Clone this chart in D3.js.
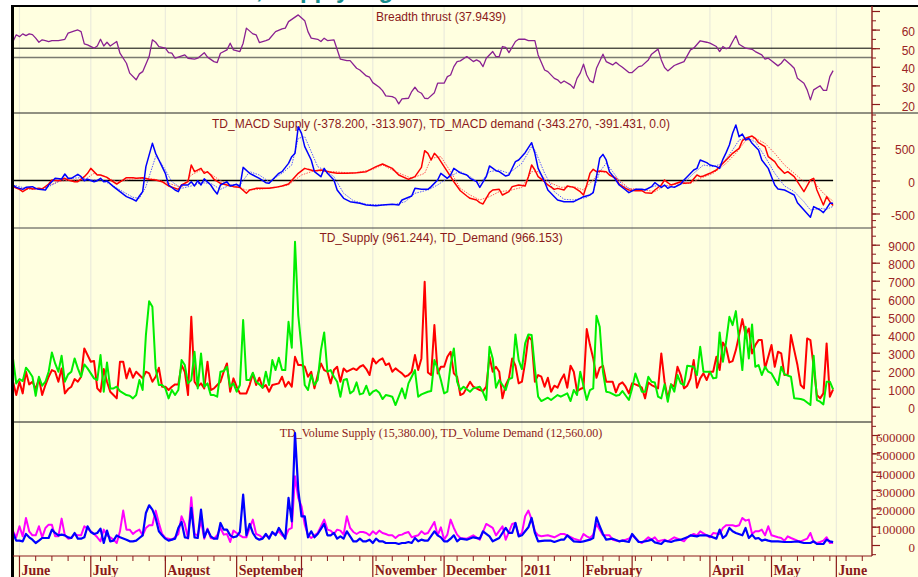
<!DOCTYPE html>
<html><head><meta charset="utf-8">
<script src="https://cdn.jsdelivr.net/npm/d3@7"></script>
<style>body{margin:0;background:#fff;}svg{display:block}</style>
</head><body>
<script>
// ---------------- DATA (day index = trading day from late May 2010) ----------------
const monthStarts = [2,24,47,69,89,111,133,157,176,191,215,234,254];
const monthLabels = ["June","July","August","September","October","November","December","2011","February","March","April","May","June"];

const breadthTicks = [20,30,40,50,60,70];
const breadthLabels = [20,30,40,50,60];
const breadthLevels = [50,45];
const macdTicks = [-500,0,500];
const supplyTicks = [0,1000,2000,3000,4000,5000,6000,7000,8000,9000];
const volumeTicks = [0,100000,200000,300000,400000,500000,600000];

const breadth = [[0,53.6],[1,57.2],[2,56.2],[3,57.7],[4,56.8],[5,57.7],[6,57.3],[7,55.4],[8,53.2],[9,54.5],[10,54.1],[11,53.6],[12,54.1],[14,54.1],[16,54.8],[17,58.1],[19,59.3],[20,59.8],[21,58.9],[22,52.3],[23,51.8],[25,50.0],[26,51.2],[27,54.8],[28,51.2],[29,53.2],[30,51.2],[32,53.6],[33,47.3],[35,41.9],[36,36.6],[38,33.0],[39,36.2],[40,37.4],[42,45.5],[43,54.5],[44,53.2],[45,50.9],[47,50.0],[48,47.6],[49,47.3],[50,44.6],[51,45.2],[53,46.4],[54,44.6],[56,44.1],[57,44.6],[59,47.6],[60,45.2],[62,42.8],[63,42.3],[64,47.3],[66,49.1],[67,52.7],[68,49.1],[70,48.2],[71,52.7],[72,60.8],[74,57.7],[75,57.2],[76,53.0],[78,54.1],[79,54.8],[81,58.9],[83,60.4],[84,60.8],[85,64.3],[88,67.9],[90,64.8],[91,58.9],[92,55.4],[94,54.8],[95,53.6],[96,55.4],[97,54.1],[99,54.5],[101,44.1],[103,43.3],[104,43.3],[106,39.2],[107,38.3],[109,35.1],[110,34.4],[111,31.5],[113,29.0],[114,27.2],[115,24.4],[117,24.0],[118,23.1],[119,20.1],[120,22.7],[122,23.1],[123,26.7],[124,29.0],[125,26.7],[126,25.8],[127,23.1],[128,22.9],[130,26.1],[131,31.2],[133,31.2],[134,34.7],[135,35.6],[136,40.1],[137,42.8],[138,43.2],[140,45.5],[142,42.8],[143,43.7],[144,42.8],[145,40.1],[146,44.6],[148,48.2],[149,45.5],[150,45.5],[151,50.9],[152,50.5],[153,47.6],[155,53.6],[156,54.8],[158,54.8],[159,54.1],[161,54.1],[162,46.4],[164,38.3],[165,37.4],[167,33.8],[168,33.0],[169,31.2],[170,32.4],[172,30.3],[173,28.5],[174,33.8],[175,36.6],[176,41.4],[177,35.6],[178,32.4],[179,31.5],[180,39.2],[182,46.8],[183,42.8],[185,41.0],[186,42.4],[187,41.0],[188,39.8],[190,36.9],[191,36.9],[193,40.1],[194,40.5],[196,43.7],[197,46.8],[199,49.5],[200,43.7],[201,39.6],[202,37.8],[204,40.7],[205,41.4],[207,42.8],[209,49.1],[210,50.0],[212,54.0],[214,53.2],[215,52.7],[217,50.9],[218,48.2],[219,50.9],[220,49.7],[221,50.3],[222,53.6],[223,56.7],[224,52.1],[226,50.0],[228,49.4],[229,48.2],[231,46.4],[232,44.1],[233,44.6],[234,43.3],[236,40.5],[237,41.9],[238,44.1],[240,41.0],[241,39.2],[242,33.8],[244,31.2],[245,27.6],[246,22.2],[247,27.6],[249,29.8],[250,27.3],[251,27.3],[252,34.7],[253,37.9439]];

const macdBlue = [[0,-68],[1,-104],[3,-134],[4,-104],[6,-93],[7,-119],[8,-134],[10,-144],[11,-68],[13,33],[15,23],[16,98],[17,33],[18,33],[20,93],[21,58],[22,-3],[23,18],[25,-18],[26,-3],[27,33],[28,-18],[29,-8],[31,-93],[33,-169],[35,-245],[37,-285],[38,-311],[39,-235],[40,-169],[41,210],[43,563],[44,412],[45,311],[47,109],[48,-68],[50,-144],[51,-169],[52,-68],[54,-68],[55,-18],[56,-83],[57,-3],[58,-68],[59,25],[61,-68],[62,-144],[63,-205],[64,-68],[66,-18],[67,-83],[69,-58],[70,-93],[71,199],[73,109],[74,83],[76,33],[78,-33],[79,-43],[80,8],[82,109],[83,134],[85,260],[86,361],[87,412],[88,815],[89,715],[90,513],[92,311],[93,134],[95,58],[96,184],[97,109],[99,8],[100,-144],[102,-270],[104,-321],[107,-346],[109,-371],[112,-381],[114,-371],[117,-361],[119,-371],[120,-295],[123,-235],[124,-119],[126,-134],[128,-134],[129,-93],[131,8],[132,109],[134,33],[135,83],[136,184],[138,115],[140,83],[141,33],[143,-18],[144,-104],[146,58],[147,220],[149,149],[150,134],[152,68],[153,83],[155,285],[156,311],[158,422],[160,573],[161,412],[162,184],[164,-18],[165,-144],[167,-245],[168,-295],[170,-321],[171,-321],[173,-321],[175,-270],[176,-245],[178,-220],[179,-184],[180,58],[181,336],[182,396],[183,311],[184,134],[186,8],[187,-68],[189,-144],[190,-184],[192,-134],[194,-134],[195,-144],[197,-93],[198,-33],[199,-68],[200,-104],[201,-68],[202,-119],[203,-93],[204,-104],[206,-53],[207,8],[208,58],[210,159],[211,184],[212,311],[214,270],[215,235],[217,210],[218,184],[219,321],[220,422],[221,538],[222,715],[223,841],[224,664],[225,704],[226,614],[227,639],[228,563],[230,462],[231,311],[233,184],[234,58],[235,-68],[236,-129],[238,-144],[239,-169],[241,-220],[242,-336],[244,-447],[246,-557],[247,-396],[249,-447],[250,-487],[251,-422],[252,-346],[253,-343.27]];

const macdBlueSignal = [[0,-68],[4,-119],[8,-134],[11,-93],[15,8],[18,33],[21,43],[24,8],[27,8],[30,-53],[33,-144],[37,-255],[39,-270],[41,-93],[44,361],[45,321],[47,159],[49,-18],[52,-119],[55,-83],[58,-33],[61,-43],[64,-134],[67,-68],[70,-68],[73,134],[76,83],[79,-18],[83,109],[86,235],[88,639],[90,664],[92,437],[94,210],[96,159],[99,58],[102,-194],[105,-306],[109,-361],[114,-371],[118,-361],[121,-321],[124,-194],[128,-144],[131,-68],[134,33],[137,119],[138,134],[141,58],[144,-43],[147,134],[150,159],[153,109],[157,260],[160,513],[161,462],[164,109],[167,-169],[170,-285],[173,-295],[177,-255],[179,-169],[181,134],[183,260],[185,134],[188,-68],[191,-144],[195,-134],[198,-83],[201,-83],[204,-93],[207,-33],[210,109],[213,235],[216,210],[219,260],[222,462],[224,614],[226,639],[229,588],[232,361],[235,109],[238,-83],[241,-169],[244,-321],[246,-447],[249,-422],[251,-437],[253,-391.431]];

const macdRed = [[0,-93],[2,-134],[3,-169],[5,-109],[6,-129],[8,-119],[9,-129],[11,-53],[12,8],[14,-3],[16,33],[17,8],[19,-18],[20,-18],[22,58],[23,109],[24,184],[26,83],[27,83],[29,48],[30,8],[32,-53],[34,8],[35,43],[37,43],[38,33],[40,43],[42,18],[44,8],[46,-18],[48,-83],[51,-134],[52,-68],[54,-18],[55,235],[56,134],[58,184],[59,109],[60,134],[61,83],[62,18],[64,-43],[66,-68],[68,-93],[70,-104],[72,-194],[73,-144],[75,-119],[77,-119],[79,-119],[81,-104],[83,-83],[85,-53],[88,109],[90,184],[91,169],[93,144],[95,159],[98,124],[100,109],[103,109],[106,119],[109,134],[112,210],[114,250],[117,184],[119,83],[122,18],[124,58],[126,199],[127,452],[128,412],[129,311],[130,412],[131,361],[133,210],[135,58],[136,-18],[138,-155],[140,-235],[141,-270],[143,-295],[144,-336],[145,-356],[147,-184],[148,-144],[150,-134],[151,-220],[153,-169],[154,-93],[156,-68],[158,-83],[159,58],[160,235],[161,159],[162,58],[164,-18],[165,-68],[167,-134],[168,-119],[170,-144],[171,-83],[173,-104],[175,-169],[176,-220],[177,-68],[178,109],[179,169],[180,134],[181,144],[183,134],[184,83],[186,33],[187,-53],[189,-119],[190,-144],[192,-154],[194,-154],[195,-184],[197,-194],[198,-144],[200,-68],[201,8],[202,-33],[203,-68],[204,-53],[206,-18],[207,-43],[209,-33],[211,83],[212,58],[213,68],[215,109],[217,159],[219,260],[221,361],[222,412],[224,487],[225,603],[226,639],[228,674],[229,639],[230,573],[232,513],[233,361],[235,285],[236,210],[238,109],[239,134],[241,58],[242,-18],[244,-169],[246,8],[247,33],[248,-144],[250,-371],[251,-245],[252,-321],[253,-378.2]];

const macdRedSignal = [[0,-104],[4,-134],[9,-119],[14,-18],[18,8],[22,8],[25,109],[28,68],[32,-18],[36,18],[40,33],[44,18],[48,-43],[52,-104],[55,83],[58,159],[61,98],[64,-3],[68,-83],[72,-144],[76,-134],[81,-104],[85,-68],[89,83],[93,149],[99,134],[105,109],[111,169],[114,235],[118,134],[123,33],[127,109],[129,336],[132,361],[135,134],[138,-119],[141,-220],[144,-295],[147,-245],[150,-169],[153,-154],[157,-104],[160,134],[162,134],[165,-18],[169,-104],[173,-93],[176,-144],[179,8],[181,134],[184,119],[187,8],[190,-119],[195,-144],[198,-169],[201,-83],[205,-53],[209,-43],[212,33],[216,109],[220,260],[223,412],[226,603],[229,639],[232,563],[235,412],[238,235],[241,109],[244,-18],[247,-18],[250,-194],[253,-313.907]];

const macdZero = [[0,0],[253,0]];

const supplyGreen = [[0,2683],[1,1295],[2,1540],[3,1425],[4,2165],[5,1943],[6,1665],[7,610],[8,1665],[9,1165],[10,1388],[11,1943],[12,3016],[13,2405],[14,1943],[15,2830],[16,1388],[17,1795],[18,1943],[19,2683],[20,2128],[21,1665],[22,2350],[23,2128],[25,1573],[26,1480],[27,2868],[28,833],[29,2460],[30,1018],[31,1018],[32,1110],[33,870],[35,648],[36,610],[37,463],[38,648],[39,1480],[40,925],[41,3978],[42,5865],[43,5550],[44,2128],[45,1203],[46,1203],[47,1018],[48,463],[49,925],[50,648],[51,925],[52,2590],[53,2313],[54,1295],[55,1480],[56,3053],[57,1018],[58,2960],[59,1110],[60,1295],[61,648],[62,648],[63,555],[64,1943],[65,1980],[66,2220],[67,1110],[68,1295],[69,833],[70,1203],[71,4810],[72,1480],[73,1480],[74,1887],[75,1388],[76,1240],[77,1055],[78,1943],[79,1203],[80,2590],[81,2035],[82,2720],[83,2035],[84,2035],[85,4718],[86,3275],[87,9158],[88,5088],[89,3275],[90,1203],[91,925],[92,1758],[93,1203],[94,1480],[95,3145],[96,4126],[97,1943],[98,2035],[99,1665],[100,1388],[101,555],[102,1480],[103,1536],[104,740],[105,870],[106,1350],[107,685],[108,740],[109,1166],[110,648],[111,833],[112,925],[113,777],[114,426],[115,648],[116,610],[117,555],[118,93],[120,1018],[121,463],[122,1295],[123,1665],[124,2035],[125,555],[126,685],[128,833],[129,870],[130,2590],[131,2128],[132,1480],[133,740],[134,833],[135,2313],[136,3238],[137,1388],[138,925],[139,1110],[141,833],[142,1018],[144,1110],[145,796],[146,370],[147,3330],[148,2683],[149,1055],[150,1480],[151,1203],[152,925],[153,1536],[154,1610],[155,4015],[156,2590],[157,2091],[158,3515],[159,4015],[160,3978],[161,2128],[162,555],[163,315],[165,500],[166,370],[168,648],[169,555],[171,740],[172,315],[173,925],[174,648],[175,1943],[177,370],[178,925],[179,1018],[180,5050],[181,4440],[182,1943],[183,833],[184,796],[186,610],[187,648],[188,870],[190,370],[191,1018],[192,1850],[194,833],[195,833],[196,1665],[197,1388],[198,1350],[199,555],[200,463],[201,1240],[202,278],[203,1240],[204,833],[205,1758],[206,1295],[207,1203],[208,2276],[210,2220],[211,1758],[212,3330],[213,1943],[215,1943],[216,1573],[217,1610],[218,4126],[219,2498],[220,3608],[221,4995],[222,4533],[223,5310],[225,2035],[226,4440],[227,2683],[228,4570],[229,2220],[230,2313],[231,1758],[232,2220],[233,1943],[234,1850],[236,1203],[237,2220],[238,1795],[240,1665],[241,463],[243,426],[244,370],[246,93],[247,2830],[248,370],[249,278],[250,130],[251,1388],[252,1388],[253,961.244]];

const supplyRed = [[0,1388],[1,648],[2,1388],[3,740],[4,1943],[5,1240],[6,1388],[7,981],[8,1573],[9,648],[10,1203],[11,1665],[12,2035],[13,1943],[14,1388],[15,2128],[16,740],[17,981],[18,1110],[19,1536],[20,1388],[21,1665],[22,3238],[24,2498],[25,2535],[26,1018],[27,833],[28,2091],[29,1388],[30,833],[31,648],[32,463],[33,2498],[34,2498],[35,1573],[36,2128],[37,1610],[38,1943],[39,1758],[40,1573],[41,1943],[42,1850],[43,1388],[44,1665],[45,2165],[46,1110],[47,1110],[48,925],[49,1110],[50,1240],[51,1240],[52,2313],[53,1943],[54,648],[55,4995],[56,1388],[57,1110],[58,1295],[59,1018],[60,2498],[61,925],[62,1018],[63,1203],[64,1388],[65,1943],[66,2405],[67,833],[68,1573],[69,1110],[70,740],[71,740],[72,740],[73,1203],[74,1850],[75,1203],[76,1610],[77,1055],[78,1203],[79,833],[80,1203],[82,1295],[83,1665],[84,1110],[85,1388],[86,1110],[87,2775],[88,2313],[89,2313],[90,2220],[91,1665],[92,1943],[93,1018],[94,1758],[95,2405],[96,2035],[97,1943],[98,1295],[99,2035],[100,2220],[101,1388],[102,2128],[103,1943],[105,2128],[106,2035],[107,2220],[108,2313],[109,2091],[110,1758],[111,2683],[112,2405],[113,2590],[114,2683],[115,2313],[116,2405],[117,1943],[118,2128],[119,1980],[120,1850],[121,1665],[122,1758],[123,1943],[124,2868],[125,2035],[126,2683],[127,6938],[128,1900],[129,1758],[130,4533],[131,1850],[132,2220],[133,2220],[134,2775],[135,3053],[136,1850],[137,1665],[138,648],[139,740],[141,1388],[142,1110],[144,925],[145,870],[146,1110],[147,2775],[148,1943],[149,2220],[150,1943],[151,463],[152,1203],[153,1573],[154,2683],[155,2276],[156,1295],[157,1388],[158,2460],[159,3885],[160,3700],[161,1388],[162,1758],[163,1665],[164,1110],[165,1610],[166,833],[167,1166],[168,1055],[169,1480],[170,1795],[171,1055],[172,2276],[173,1943],[174,870],[175,981],[176,1055],[177,4310],[178,3423],[179,2683],[180,1610],[181,2165],[182,2276],[183,1388],[185,1388],[186,796],[187,1240],[188,1350],[189,1110],[190,740],[191,1295],[192,1240],[193,1166],[194,1055],[195,463],[196,1350],[197,1203],[199,1018],[200,2960],[201,1388],[202,463],[203,1240],[204,1110],[205,2220],[206,1758],[207,1018],[208,1166],[209,1573],[210,2590],[211,1055],[212,1573],[213,1850],[214,1480],[215,1943],[216,1943],[217,2775],[218,2035],[219,3570],[220,3275],[221,2460],[222,2535],[223,3145],[224,3978],[225,4866],[226,3978],[227,4348],[228,2960],[229,3423],[230,3700],[231,3700],[232,2128],[234,3423],[235,2220],[236,3053],[237,2960],[238,1758],[239,1795],[240,3978],[241,3145],[242,2313],[243,1203],[244,1018],[245,3793],[246,3700],[247,2220],[248,648],[249,463],[250,740],[251,3515],[252,555],[253,966.153]];

const volMagenta = [[0,75000],[1,41900],[2,102000],[3,47300],[4,147500],[5,74700],[6,52800],[7,52800],[8,102000],[9,41900],[10,92900],[11,111000],[12,111000],[13,47300],[14,47300],[15,143900],[16,52800],[17,34600],[18,38200],[19,60100],[20,52800],[21,52800],[22,102000],[24,74700],[25,60100],[26,41900],[27,20000],[28,83800],[29,52800],[30,41900],[31,29100],[32,10900],[33,74700],[34,187600],[35,83800],[36,83800],[37,60100],[38,74700],[39,83800],[40,52800],[41,92900],[42,107400],[43,107400],[44,187600],[45,120200],[46,60100],[47,38200],[48,34600],[49,29100],[50,41900],[51,60100],[52,156600],[53,114700],[54,34600],[55,260400],[56,60100],[57,52800],[58,132900],[59,34600],[60,89200],[61,38200],[62,34600],[63,52800],[64,92900],[65,56500],[66,60100],[67,16400],[68,78300],[69,65600],[70,52800],[71,41900],[72,41900],[73,92900],[74,138400],[75,60100],[76,52800],[77,38200],[78,52800],[79,41900],[80,65600],[81,60100],[82,74700],[83,52800],[84,41900],[85,83800],[86,92900],[87,375100],[88,256800],[89,211200],[90,111000],[91,52800],[92,38200],[93,52800],[94,65600],[96,138400],[97,83800],[98,78300],[99,60100],[100,83800],[101,78300],[102,56500],[103,156600],[104,92900],[105,71000],[106,60100],[107,71000],[108,71000],[109,65600],[110,52800],[111,74700],[112,60100],[113,78300],[114,65600],[115,60100],[116,52800],[117,52800],[118,38200],[119,52800],[120,56500],[121,65600],[122,71000],[123,41900],[124,47300],[125,52800],[126,74700],[127,60100],[128,65600],[130,125700],[131,52800],[132,96500],[133,29100],[134,56500],[135,138400],[136,92900],[137,56500],[138,38200],[140,34600],[142,52800],[144,29100],[146,114700],[148,92900],[149,52800],[151,102000],[152,29100],[154,114700],[155,120200],[156,52800],[157,65600],[158,156600],[159,187600],[160,138400],[161,74700],[162,52800],[163,47300],[165,52800],[167,41900],[169,60100],[170,60100],[171,52800],[173,34600],[175,23700],[176,60100],[177,47300],[178,38200],[179,56500],[180,114700],[181,83800],[182,52800],[184,52800],[185,29100],[187,20000],[189,29100],[190,34600],[191,52800],[193,20000],[194,10900],[196,41900],[197,29100],[198,41900],[199,20000],[201,29100],[202,20000],[204,41900],[205,34600],[207,20000],[208,41900],[210,60100],[211,52800],[212,74700],[214,52800],[215,41900],[216,65600],[218,60100],[219,92900],[220,107400],[222,107400],[223,102000],[224,107400],[225,147500],[226,132900],[227,138400],[228,60100],[229,74700],[230,74700],[231,83800],[232,52800],[233,102000],[234,52800],[236,41900],[237,38200],[238,23700],[239,47300],[240,38200],[242,23700],[243,20000],[245,34600],[246,65600],[247,16400],[248,10900],[249,16400],[250,23700],[251,41900],[252,10900],[253,12560]];

const volBlue = [[0,65600],[1,23700],[2,23700],[3,20000],[4,60100],[5,41900],[6,29100],[7,10900],[8,23700],[9,38200],[10,38200],[11,38200],[12,83800],[13,65600],[14,52800],[15,56500],[16,52800],[17,41900],[18,38200],[19,65600],[20,34600],[21,34600],[22,41900],[23,102000],[24,71000],[25,60100],[26,65600],[27,89200],[28,10900],[29,78300],[30,20000],[31,23700],[32,52800],[33,41900],[35,29100],[36,20000],[37,20000],[38,23700],[39,38200],[40,52800],[41,174800],[42,216700],[43,193000],[44,147500],[45,74700],[46,52800],[47,34600],[48,23700],[49,29100],[50,34600],[51,92900],[52,125600],[53,41900],[54,38200],[55,202100],[56,41900],[57,38200],[58,193000],[59,41900],[60,83800],[61,47300],[62,34600],[63,34600],[64,120200],[65,83800],[66,83800],[67,52800],[68,41900],[69,47300],[70,71000],[71,275000],[72,52800],[73,114700],[74,65600],[75,38200],[76,29100],[77,34600],[78,60100],[79,34600],[80,71000],[81,52800],[82,92900],[83,65600],[84,34600],[85,256800],[86,129300],[87,610000],[88,302300],[89,156600],[90,156600],[91,41900],[92,74700],[93,41900],[94,60100],[96,114700],[97,52800],[98,52800],[99,65600],[100,34600],[101,47300],[102,34600],[103,74700],[104,47300],[105,20000],[106,20000],[107,34600],[108,20000],[109,20000],[110,29100],[111,10900],[112,34600],[113,20000],[114,20000],[115,10900],[116,10900],[117,10900],[118,10900],[119,5500],[120,10900],[121,10900],[122,16400],[123,10900],[124,38200],[125,20000],[126,29100],[127,23700],[128,23700],[130,74700],[131,52800],[132,41900],[133,20000],[134,20000],[135,34600],[136,52800],[137,20000],[138,34600],[140,29100],[142,41900],[144,34600],[145,74700],[147,47300],[148,20000],[150,38200],[152,92900],[153,65600],[154,65600],[155,120200],[156,47300],[157,52800],[158,74700],[159,96500],[160,147500],[161,65600],[162,20000],[164,23700],[166,23700],[167,16400],[169,29100],[170,29100],[171,52800],[173,20000],[175,16400],[176,20000],[178,29100],[179,38200],[180,151100],[181,102000],[182,60100],[183,29100],[185,34600],[187,20000],[188,23700],[190,16400],[191,60100],[193,16400],[194,16400],[196,23700],[197,29100],[198,14600],[200,5500],[201,23700],[203,16400],[204,23700],[206,29100],[208,41900],[209,52800],[211,47300],[212,52800],[214,52800],[215,47300],[217,34600],[218,83800],[219,38200],[220,52800],[221,92900],[222,74700],[223,65600],[225,52800],[226,92900],[227,38200],[228,56500],[229,34600],[230,38200],[231,23700],[232,29100],[233,23700],[234,20000],[236,20000],[238,16400],[240,16400],[242,20000],[244,10900],[246,10900],[247,20000],[248,5500],[250,5500],[251,29100],[252,20000],[253,15380]];

const titles = {
  breadth: "Breadth thrust (37.9439)",
  macd: "TD_MACD Supply (-378.200, -313.907), TD_MACD demand (-343.270, -391.431, 0.0)",
  supply: "TD_Supply (961.244), TD_Demand (966.153)",
  volume: "TD_Volume Supply (15,380.00), TD_Volume Demand (12,560.00)"
};
const headerText = "TAIEX, Supply Signal.";

// ---------------- LAYOUT ----------------
const W = 918, H = 577;
const L = 13, R = 872;
const CREAM = "#ffffe0", AX = "#8b1a1a", LBL = "#9a2424";
const SANS = "'Liberation Sans', Arial, sans-serif";
const SERIF = "'Liberation Serif', 'Times New Roman', serif";

const P = {
  breadth: {top: 6, bottom: 113},
  macd: {top: 113, bottom: 228},
  supply: {top: 228, bottom: 422},
  volume: {top: 422, bottom: 556}
};

const x = d3.scaleLinear().domain([0, 265]).range([L, R]);
const yB = d3.scaleLinear().domain([20, 70]).range([104, 11]);
const yM = d3.scaleLinear().domain([-500, 500]).range([213.5, 147.5]);
const yS = d3.scaleLinear().domain([0, 9000]).range([406.7, 244.7]);
const yV = d3.scaleLinear().domain([0, 600000]).range([545, 435]);

const svg = d3.select("body").append("svg").attr("width", W).attr("height", H);
svg.append("rect").attr("width", W).attr("height", H).attr("fill", "#fff");

// header title, cut off by the top of the picture as in the original
svg.append("text").attr("x", 187).attr("y", -2).attr("font-family", SANS).attr("font-weight", "bold")
  .attr("font-size", 24).attr("fill", "#178c8c").text(headerText);

svg.append("rect").attr("x", 12).attr("y", 6).attr("width", W - 12).attr("height", H - 6).attr("fill", CREAM);

// clip paths
const defs = svg.append("defs");
Object.entries(P).forEach(([k, p]) => {
  defs.append("clipPath").attr("id", "clip-" + k).append("rect")
    .attr("x", L).attr("y", p.top).attr("width", R - L).attr("height", p.bottom - p.top);
});

// vertical month gridlines
svg.append("g").selectAll("line").data(monthStarts).join("line")
  .attr("x1", d => x(d)).attr("x2", d => x(d)).attr("y1", 6).attr("y2", 556)
  .attr("stroke", "#ebebdc").attr("stroke-width", 1.2);

// breadth reference levels
svg.append("g").selectAll("line").data(breadthLevels).join("line")
  .attr("x1", L).attr("x2", R).attr("y1", d => yB(d)).attr("y2", d => yB(d))
  .attr("stroke", (d, i) => i === 0 ? "#000" : "#7a7a70").attr("stroke-width", (d, i) => i === 0 ? 1 : 1.6);

// titles
function title(txt, y, fam) {
  svg.append("text").attr("x", 441).attr("y", y).attr("text-anchor", "middle")
    .attr("font-family", fam).attr("font-size", 12).attr("fill", AX).text(txt);
}
title(titles.breadth, 21, SANS);
title(titles.macd, 128, SANS);
title(titles.supply, 242, SANS);
title(titles.volume, 437, SERIF);

// series
function series(data, y, panel, color, width, dash) {
  const line = d3.line().x(d => x(d[0])).y(d => y(d[1]));
  svg.append("path").datum(data).attr("clip-path", "url(#clip-" + panel + ")")
    .attr("d", line).attr("fill", "none").attr("stroke", color).attr("stroke-width", width)
    .attr("stroke-linejoin", "round").attr("stroke-dasharray", dash || null);
}
series(breadth, yB, "breadth", "#8a2191", 1.3);

series(macdZero, yM, "macd", "#000", 1.3);
series(macdRedSignal, yM, "macd", "#ff5a5a", 1, "1.5,1.2");
series(macdBlueSignal, yM, "macd", "#5a5aff", 1, "1.5,1.2");
series(macdRed, yM, "macd", "#ff0000", 1.5);
series(macdBlue, yM, "macd", "#0000ff", 1.5);

series(supplyRed, yS, "supply", "#ff0000", 2);
series(supplyGreen, yS, "supply", "#00ee00", 2);

series(volMagenta, yV, "volume", "#ff00ff", 2);
series(volBlue, yV, "volume", "#0000ff", 2.2);

// borders and separators
svg.append("line").attr("x1", 12).attr("x2", W).attr("y1", 6).attr("y2", 6).attr("stroke", "#000").attr("stroke-width", 2);
svg.append("line").attr("x1", 12).attr("x2", W).attr("y1", 113).attr("y2", 113).attr("stroke", "#222").attr("stroke-width", 1);
svg.append("line").attr("x1", 12).attr("x2", R).attr("y1", 228).attr("y2", 228).attr("stroke", "#444").attr("stroke-width", 1);
svg.append("line").attr("x1", 12).attr("x2", R).attr("y1", 422).attr("y2", 422).attr("stroke", "#111").attr("stroke-width", 1);
svg.append("line").attr("x1", 12.5).attr("x2", 12.5).attr("y1", 5).attr("y2", H).attr("stroke", "#000").attr("stroke-width", 3);

// right axes
function rightAxis(y, panel, major, labels, minorStep, fam, fs, fmt) {
  const p = P[panel];
  const inside = v => y(v) > p.top + 1 && y(v) < p.bottom - 1;
  const lo = y.invert(p.bottom), hi = y.invert(p.top);
  const minor = d3.range(Math.ceil(lo / minorStep) * minorStep, hi, minorStep).filter(inside);
  const g = svg.append("g").attr("transform", `translate(${R},0)`);
  g.call(d3.axisRight(y).tickValues(minor).tickSize(4).tickFormat(""));
  g.select(".domain").remove();
  g.selectAll("line").attr("stroke", AX);
  const g2 = svg.append("g").attr("transform", `translate(${R},0)`);
  g2.call(d3.axisRight(y).tickValues(major.filter(inside)).tickSize(8)
    .tickFormat(d => labels.includes(d) ? fmt(d) : ""));
  g2.select(".domain").remove();
  g2.selectAll("line").attr("stroke", AX).attr("stroke-width", 1.2);
  g2.selectAll("text").attr("x", 915 - R).attr("text-anchor", "end").attr("dy", "0.5em")
    .attr("font-family", fam).attr("font-size", fs).attr("fill", LBL);
}
rightAxis(yB, "breadth", breadthTicks, breadthLabels, 5, SANS, 12, d => d);
rightAxis(yM, "macd", macdTicks, macdTicks, 100, SANS, 12, d => d);
rightAxis(yS, "supply", supplyTicks, supplyTicks, 500, SANS, 12, d => d);
rightAxis(yV, "volume", volumeTicks, volumeTicks, 50000, SERIF, 13, d => d);

svg.append("line").attr("x1", R).attr("x2", R).attr("y1", 6).attr("y2", 556).attr("stroke", AX).attr("stroke-width", 1.4);

// bottom axis
const BY = 556;
svg.append("line").attr("x1", L).attr("x2", R).attr("y1", BY).attr("y2", BY).attr("stroke", AX).attr("stroke-width", 1.2);
const weekly = d3.range(2, 266, 5);
svg.append("g").selectAll("line").data(weekly).join("line")
  .attr("x1", d => x(d)).attr("x2", d => x(d)).attr("y1", BY).attr("y2", BY + 5)
  .attr("stroke", AX).attr("stroke-width", 1);
svg.append("g").selectAll("line").data(monthStarts).join("line")
  .attr("x1", d => x(d)).attr("x2", d => x(d)).attr("y1", BY).attr("y2", H)
  .attr("stroke", AX).attr("stroke-width", 1.2);
let prevEnd = -1e9;
monthStarts.forEach((m, i) => {
  const t = svg.append("text").attr("x", x(m) + 2).attr("y", 575)
    .attr("font-family", SERIF).attr("font-weight", "bold").attr("font-size", 14)
    .attr("fill", AX).text(monthLabels[i]);
  const w = t.node().getComputedTextLength();
  if (x(m) + 2 < prevEnd + 2) { t.remove(); } else { prevEnd = x(m) + 2 + w; }
});
</script>
</body></html>
